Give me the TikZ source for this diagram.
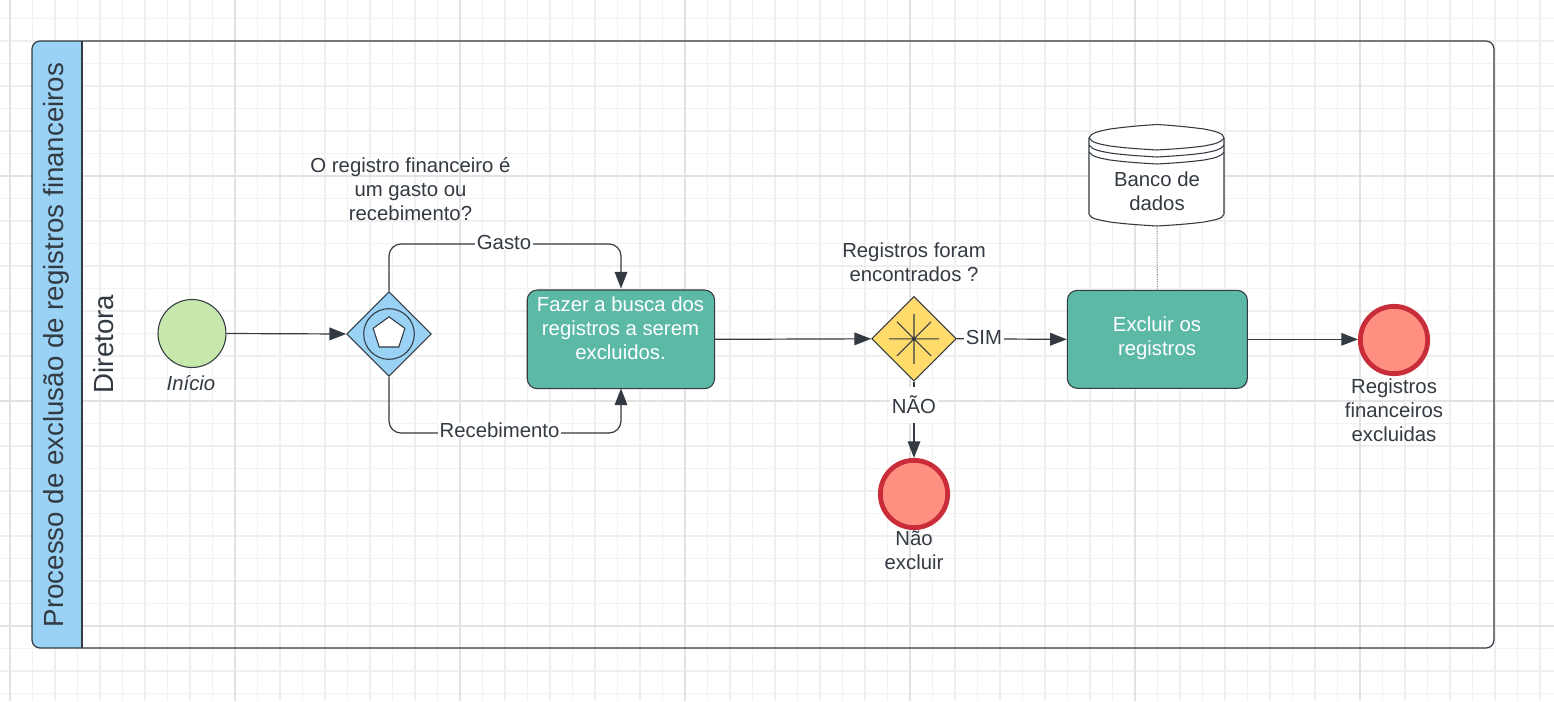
\documentclass[tikz,border=0pt]{standalone}
\usepackage{fontspec}
\setmainfont{Liberation Sans}
\usetikzlibrary{arrows.meta,shapes.geometric,calc}
\definecolor{ink}{HTML}{333A42}
\definecolor{gridmaj}{HTML}{E2E2E2}
\definecolor{gridmid}{HTML}{EFEFEF}
\definecolor{gridmin}{HTML}{F2F2F2}
\definecolor{lane}{HTML}{99D2F5}
\definecolor{taskc}{HTML}{5CB9A6}
\definecolor{gatey}{HTML}{FFDB6B}
\definecolor{startc}{HTML}{C7E8AC}
\definecolor{endc}{HTML}{FF8F80}
\definecolor{endr}{HTML}{C92D39}
\tikzset{
  x=0.75pt,y=-0.75pt,
  txt/.style={text=ink,font=\fontsize{15.25}{18}\selectfont,align=center,inner sep=0pt},
  whitetxt/.style={text=white,font=\fontsize{15.25}{18}\selectfont,align=center,inner sep=0pt},
  elabel/.style={txt,fill=white,inner xsep=1.5pt,inner ysep=0pt},
  flow/.style={draw=ink,line width=0.9pt,-{Triangle[length=12.5pt,width=9.5pt,fill=ink]},rounded corners=9pt},
  taskbox/.style={draw=ink,line width=0.8pt,fill=taskc,rounded corners=7.5pt,inner sep=0pt,anchor=north west},
  gate/.style={diamond,draw=ink,line width=0.8pt,inner sep=0pt,minimum width=63.5pt,minimum height=63.5pt,aspect=1},
  startev/.style={circle,draw=ink,line width=0.8pt,fill=startc,minimum size=51pt,inner sep=0pt},
  endev/.style={circle,draw=endr,line width=3.6pt,fill=endc,minimum size=50.5pt,inner sep=0pt},
}
\begin{document}
\begin{tikzpicture}
\useasboundingbox (0,0) rectangle (1554,701);
\fill[white] (0,0) rectangle (1554,701);
% grid
\foreach \i in {-1,...,70}{
  \pgfmathsetmacro{\xx}{10+22.5*\i}
  \draw[gridmin,line width=0.75pt] (\xx,0) -- (\xx,701);
}
\foreach \i in {-1,...,35}{
  \pgfmathsetmacro{\xx}{10+45*\i}
  \draw[gridmid,line width=1.1pt] (\xx,0) -- (\xx,701);
}
\foreach \i in {-1,...,31}{
  \pgfmathsetmacro{\yy}{18.5+22.5*\i}
  \draw[gridmin,line width=0.75pt] (0,\yy) -- (1554,\yy);
}
\foreach \i in {-1,...,16}{
  \pgfmathsetmacro{\yy}{41+45*\i}
  \draw[gridmid,line width=1.1pt] (0,\yy) -- (1554,\yy);
}
\foreach \i in {0,...,6}{
  \pgfmathsetmacro{\xx}{10+225*\i}
  \draw[gridmaj,line width=1.2pt] (\xx,0) -- (\xx,701);
}
\foreach \i in {0,...,2}{
  \pgfmathsetmacro{\yy}{176+225*\i}
  \draw[gridmaj,line width=1.2pt] (0,\yy) -- (1554,\yy);
}
% pool
\begin{scope}
\clip[rounded corners=6pt] (32,41) rectangle (1494,648);
\fill[lane] (32,41) rectangle (82,648);
\end{scope}
\draw[ink,line width=0.9pt,rounded corners=6pt] (32,41) rectangle (1494,648);
\draw[ink,line width=0.8pt] (82,41) -- (82,648);
\node[txt,rotate=90,font=\fontsize{20.75}{24}\selectfont] (pooltitle) at (56,345) {Processo de exclusão de registros financeiros};
\node[txt,rotate=90,font=\fontsize{20.75}{24}\selectfont] (lanetitle) at (104,344) {Diretora};
% nodes
\node[startev] (start) at (192,333.5) {};
\node[txt,font=\fontsize{15.25}{18}\selectfont\itshape] (startl) at (191,383) {Início};
\node[gate,fill=lane] (g1) at (389,334) {};
\node[circle,draw=ink,line width=0.8pt,minimum size=38pt,inner sep=0pt] (g1c) at (389,334) {};
\node[regular polygon,regular polygon sides=5,draw=ink,line width=0.8pt,fill=white,minimum size=25pt,inner sep=0pt] (g1p) at (389,333.5) {};
\node[txt] (g1l) at (410.5,189.5) {O registro financeiro é\\um gasto ou\\recebimento?};
\node[taskbox,minimum width=140.5pt,minimum height=74pt] (t1) at (526.7,289.47) {};
\node[whitetxt] (t1l) at (620.5,328.5) {Fazer a busca dos\\registros a serem\\excluidos.};
\node[gate,fill=gatey] (g2) at (914,338.8) {};
\node[txt] (g2l) at (914,262.5) {Registros foram\\encontrados ?};
\node[taskbox,minimum width=135pt,minimum height=73.5pt] (t2) at (1066.8,289.8) {};
\node[whitetxt] (t2l) at (1157,338) {Excluir os\\registros};
\node[endev] (e1) at (914,494) {};
\node[txt] (e1l) at (914,550.5) {Não\\excluir};
\node[endev] (e2) at (1394,340) {};
\node[txt] (e2l) at (1394,410.5) {Registros\\financeiros\\excluidas};
% gateway star
\draw[ink,line width=0.8pt] (889,338.8) -- (939,338.8) (914,313.8) -- (914,363.8) (897,321.8) -- (931,355.8) (931,321.8) -- (897,355.8);
\fill[ink] (914,338.8) circle[radius=1.6];
% database
\filldraw[fill=white,draw=ink,line width=0.8pt,line join=round]
  (1089,138) .. controls (1090,133) and (1100,131) .. (1110,129)
  .. controls (1125,127) and (1140,125.5) .. (1157,124.5)
  .. controls (1174,125.5) and (1189,127) .. (1204,129)
  .. controls (1214,131) and (1224,133) .. (1224,138)
  -- (1224,214)
  .. controls (1223,219) and (1214,220) .. (1204,222)
  .. controls (1189,224) and (1174,225) .. (1157,226)
  .. controls (1140,225) and (1125,224) .. (1110,222)
  .. controls (1100,220) and (1090,219) .. (1089,214) -- cycle;
\foreach \d in {0,7,14}{
  \draw[ink,line width=0.8pt]
    (1089,138+\d) .. controls (1092,143+\d) and (1100,144+\d) .. (1110,146+\d)
    .. controls (1125,148+\d) and (1140,149+\d) .. (1157,150+\d)
    .. controls (1174,149+\d) and (1189,148+\d) .. (1204,146+\d)
    .. controls (1214,144+\d) and (1221,143+\d) .. (1224,138+\d);
}
\node[txt] (db) at (1157,191) {Banco de\\dados};
\coordinate (dbb) at (1157,226);
\draw[ink!60,line width=0.8pt,densely dotted] (dbb) -- (t2.north);
% connectors
\draw[flow] (start.east) -- (g1.west);
\draw[flow] (g1.north) -- (389,244) -- (621,244) -- (621,288.5);
\draw[flow] (g1.south) -- (389,433) -- (621,433) -- (621,388.5);
\node[elabel] (gasto) at (504,242) {Gasto};
\node[elabel] (receb) at (499.5,430.5) {Recebimento};
\draw[flow] (t1.east) -- (g2.west);
\draw[flow] (g2.east) -- (t2.west);
\node[elabel] (sim) at (984,337) {SIM};
\draw[flow] (g2.south) -- (e1.north);
\node[elabel,inner ysep=7pt] (nao) at (914,405) {NÃO};
\draw[flow] (t2.east) -- (t2.east -| e2.west);
\end{tikzpicture}
\end{document}
